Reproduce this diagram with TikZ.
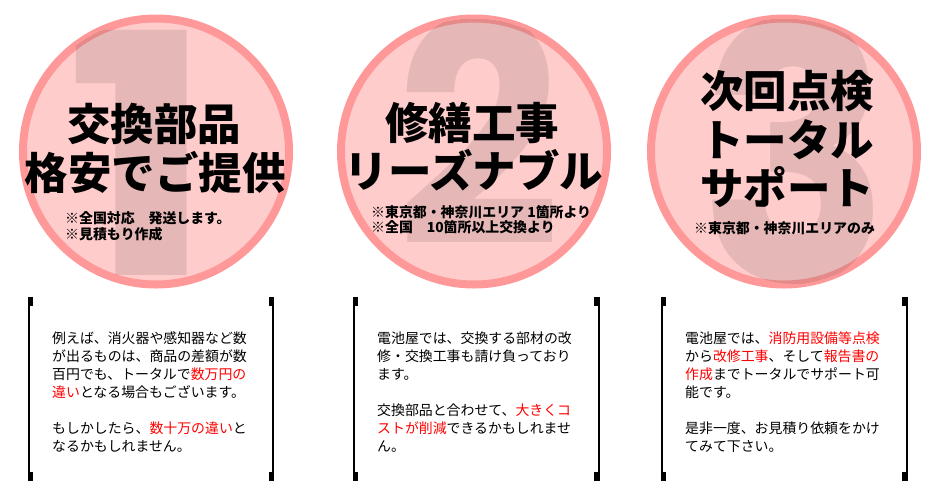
\documentclass[tikz,border=0pt]{standalone}
\usepackage{graphicx}
\usepackage{fontspec}
\usepackage{xcolor}
\usepackage{tikz}
\setmainfont{Noto Sans CJK JP}
\newfontfamily\bignum{Poppins}
\definecolor{ringred}{HTML}{FF9999}
\definecolor{discpink}{HTML}{FFCCCC}
\tikzset{
    disc/.style={circle, draw=ringred, fill=discpink, line width=8pt, minimum size=266pt, inner sep=0pt},
    bignumber/.style={inner sep=0pt, black, opacity=0.1, font=\bignum\bfseries\fontsize{#1}{#1}\selectfont},
    headline/.style={inner sep=0pt, font=\bfseries\fontsize{43.5}{44}\selectfont},
    smallnote/.style={anchor=west, inner sep=0pt, font=\bfseries\fontsize{13.9}{16}\selectfont},
    bodytext/.style={anchor=north west, inner sep=0pt, align=left, font=\fontsize{13.9}{18}\selectfont},
    brkt/.style={line width=2pt, black},
    brkttab/.style={fill=black, draw=none}
}
\newcommand{\redtxt}[1]{\textcolor{red}{#1}}
\begin{document}
\begin{tikzpicture}[x=1pt, y=-1pt]
    \useasboundingbox (0,0) rectangle (950,496);

    % Circle one
    \node[disc] (disc1) at (156,151.5) {};
    \begin{scope}
        \clip (156,151.5) circle (133);
        \node[bignumber=336] (num1) at (141,153) {\scalebox{1.19}[1]{1}};
    \end{scope}
    \node[headline] (head1a) at (154,124) {交換部品};
    \node[headline] (head1b) at (155,172) {格安でご提供};
    \node[smallnote] (note1a) at (65,218) {※全国対応　発送します。};
    \node[smallnote] (note1b) at (65,234) {※見積もり作成};

    % Circle two
    \node[disc] (disc2) at (474,151.5) {};
    \begin{scope}
        \clip (474,151.5) circle (133);
        \node[bignumber=310] (num2) at (478.5,130) {\scalebox{.93}[1]{2}};
    \end{scope}
    \node[headline] (head2a) at (472,123) {修繕工事};
    \node[headline] (head2b) at (474,170) {リーズナブル};
    \node[smallnote] (note2a) at (371,212) {※東京都・神奈川エリア 1箇所より};
    \node[smallnote] (note2b) at (371,227) {※全国　10箇所以上交換より};

    % Circle three
    \node[disc] (disc3) at (784,151.5) {};
    \begin{scope}
        \clip (784,151.5) circle (133);
        \node[bignumber=340] (num3) at (795,150) {\scalebox{.93}[1.05]{3}};
    \end{scope}
    \node[headline] (head3a) at (787,91) {次回点検};
    \node[headline] (head3b) at (787,140) {トータル};
    \node[headline] (head3c) at (787,187) {サポート};
    \node[smallnote] (note3a) at (694,228) {※東京都・神奈川エリアのみ};

    % Brackets, left
    \draw[brkt] (29,297) -- (29,481);
    \fill[brkttab] (27.7,297) rectangle (32.7,306);
    \fill[brkttab] (27.7,472) rectangle (32.7,481);
    \draw[brkt] (273.3,297) -- (273.3,481);
    \fill[brkttab] (269.3,297) rectangle (274.3,306);
    \fill[brkttab] (269.3,472) rectangle (274.3,481);

    % Brackets, middle
    \draw[brkt] (353.5,297) -- (353.5,481);
    \fill[brkttab] (352.5,297) rectangle (357.7,306);
    \fill[brkttab] (352.5,472) rectangle (357.7,481);
    \draw[brkt] (598.5,297) -- (598.5,481);
    \fill[brkttab] (594.3,297) rectangle (599.5,306);
    \fill[brkttab] (594.3,472) rectangle (599.5,481);

    % Brackets, right
    \draw[brkt] (662,297) -- (662,481);
    \fill[brkttab] (661,297) rectangle (666,306);
    \fill[brkttab] (661,472) rectangle (666,481);
    \draw[brkt] (906.5,297) -- (906.5,481);
    \fill[brkttab] (902.3,297) rectangle (907.5,306);
    \fill[brkttab] (902.3,472) rectangle (907.5,481);

    % Body text
    \node[bodytext] (body1) at (52,332) {例えば、消火器や感知器など数\\
        が出るものは、商品の差額が数\\
        百円でも、トータルで\redtxt{数万円の}\\
        \redtxt{違い}となる場合もございます。\\[18pt]
        もしかしたら、\redtxt{数十万の違い}と\\
        なるかもしれません。};
    \node[bodytext] (body2) at (377,332) {電池屋では、交換する部材の改\\
        修・交換工事も請け負っており\\
        ます。\\[18pt]
        交換部品と合わせて、\redtxt{大きくコ}\\
        \redtxt{ストが削減}できるかもしれませ\\
        ん。};
    \node[bodytext] (body3) at (685,332) {電池屋では、\redtxt{消防用設備等点検}\\
        から\redtxt{改修工事}、そして\redtxt{報告書の}\\
        \redtxt{作成}までトータルでサポート可\\
        能です。\\[18pt]
        是非一度、お見積り依頼をかけ\\
        てみて下さい。};
\end{tikzpicture}
\end{document}
